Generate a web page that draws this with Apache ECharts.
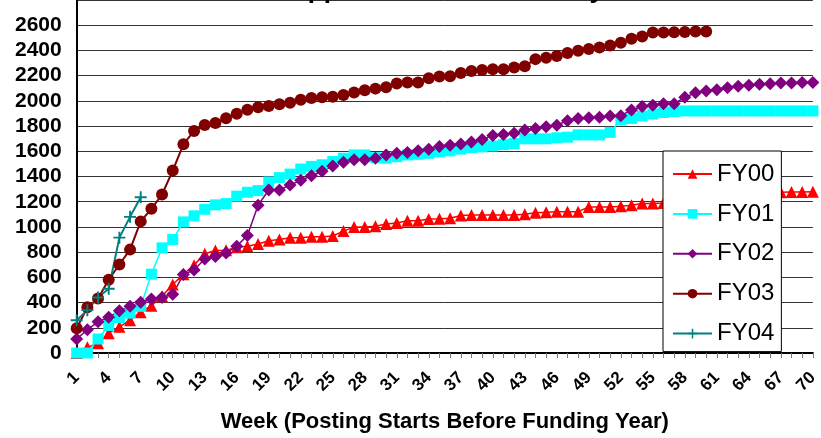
<!DOCTYPE html>
<html>
<head>
<meta charset="utf-8">
<script src="https://cdn.jsdelivr.net/npm/echarts@6/dist/echarts.min.js"></script>
<style>
html,body{margin:0;padding:0;background:#fff;}
#c{width:821px;height:438px;}
</style>
</head>
<body>
<div id="c"></div>
<script>
const weeks = ['1','2','3','4','5','6','7','8','9','10','11','12','13','14','15','16','17','18','19','20',
  '21','22','23','24','25','26','27','28','29','30','31','32','33','34','35','36','37','38','39','40',
  '41','42','43','44','45','46','47','48','49','50','51','52','53','54','55','56','57','58','59','60',
  '61','62','63','64','65','66','67','68','69','70'];

const fy00 = [0,45,78,157,208,260,324,375,450,543,
  625,697,787,813,815,838,846,864,890,900,
  915,915,923,923,928,967,1000,1000,1005,1023,
  1031,1049,1049,1062,1064,1069,1090,1095,1095,1095,
  1095,1095,1100,1113,1116,1121,1121,1121,1159,1159,
  1159,1164,1172,1185,1185,1190,1198,1210,1215,1230,
  1238,1245,1252,1262,1268,1272,1275,1278,1278,1280];

const fy01 = [0,0,111,218,281,316,370,625,834,900,
  1040,1088,1140,1175,1185,1244,1275,1288,1357,1391,
  1419,1459,1480,1493,1519,1545,1571,1571,1550,1545,
  1557,1571,1576,1584,1596,1604,1617,1630,1635,1642,
  1653,1661,1699,1699,1699,1707,1712,1730,1730,1730,
  1750,1850,1860,1880,1895,1908,1915,1920,1920,1920,
  1920,1920,1920,1920,1920,1920,1920,1920,1920,1920];

const fy02 = [111,185,247,283,335,370,402,428,441,466,
  622,658,746,766,794,846,933,1172,1293,1293,
  1332,1370,1406,1442,1483,1514,1532,1532,1545,1571,
  1584,1591,1604,1617,1638,1648,1658,1673,1694,1725,
  1733,1743,1769,1781,1794,1807,1843,1860,1866,1870,
  1879,1882,1928,1955,1966,1977,1977,2028,2064,2079,
  2089,2103,2116,2123,2131,2136,2141,2141,2146,2146];

const fy03 = [196,362,432,581,702,820,1044,1144,1257,1447,
  1655,1761,1808,1825,1862,1898,1930,1950,1960,1974,
  1985,2008,2023,2028,2033,2046,2066,2085,2097,2108,
  2138,2146,2146,2180,2193,2195,2221,2236,2244,2251,
  2251,2264,2275,2331,2342,2355,2380,2398,2411,2424,
  2439,2460,2493,2511,2542,2542,2544,2547,2550,2550];

const fy04 = [260,340,440,510,915,1080,1235];

const seriesNames = ['FY00','FY01','FY02','FY03','FY04'];
const titleText = 'Applications Received by Week';
const xAxisTitle = 'Week (Posting Starts Before Funding Year)';

const FONT = 'Liberation Sans, Arial, sans-serif';
const plusPath = 'path://M4.2,0 L5.8,0 L5.8,4.2 L10,4.2 L10,5.8 L5.8,5.8 L5.8,10 L4.2,10 L4.2,5.8 L0,5.8 L0,4.2 L4.2,4.2 Z';

function mk(name, data, color, symbol, size, lw) {
  return {
    name: name, type: 'line', data: data,
    symbol: symbol, symbolSize: size, showSymbol: true, showAllSymbol: true,
    lineStyle: {color: color, width: lw},
    itemStyle: {color: color, borderWidth: 0},
    emphasis: {disabled: true},
    animation: false
  };
}

const chart = echarts.init(document.getElementById('c'), null, {renderer: 'canvas'});
chart.setOption({
  backgroundColor: '#ffffff',
  animation: false,
  title: {
    text: titleText, left: 289, top: -22, padding: 0,
    textStyle: {fontFamily: FONT, fontSize: 26, fontWeight: 'bold', color: '#000'}
  },
  legend: {
    orient: 'vertical', left: 663, top: 151,
    padding: [11, 7, 6, 9],
    itemWidth: 39, itemHeight: 12, itemGap: 15.9,
    backgroundColor: '#fff', borderColor: '#000', borderWidth: 1,
    data: seriesNames,
    textStyle: {fontFamily: FONT, fontSize: 24, color: '#000', lineHeight: 22}
  },
  grid: {left: 76.7, right: 0, top: -9.3, bottom: 84.3, containLabel: false},
  xAxis: {
    type: 'category', data: weeks, boundaryGap: false,
    name: xAxisTitle, nameLocation: 'middle', nameGap: 58,
    nameTextStyle: {fontFamily: FONT, fontSize: 22, fontWeight: 'bold', color: '#000'},
    axisLine: {lineStyle: {color: '#000', width: 2}},
    axisTick: {show: true, interval: 0, inside: false, length: 5, lineStyle: {color: '#777', width: 1}},
    axisLabel: {interval: 2, rotate: 45, margin: 22, fontFamily: FONT, fontSize: 17, fontWeight: 'bold', color: '#000'},
    splitLine: {show: false}
  },
  yAxis: {
    type: 'value', min: 0, max: 2800, interval: 200,
    axisLine: {show: true, lineStyle: {color: '#000', width: 2}},
    axisTick: {show: false},
    axisLabel: {margin: 15, fontFamily: FONT, fontSize: 21, fontWeight: 'bold', color: '#000', showMaxLabel: false,
      formatter: function (v) { return String(v); }},
    splitLine: {show: true, lineStyle: {color: '#333', width: 1}}
  },
  series: [
    mk('FY00', fy00, '#FF0000', 'triangle', 12, 1.5),
    mk('FY01', fy01, '#00FFFF', 'rect', 11, 1.5),
    mk('FY02', fy02, '#800080', 'diamond', 13, 1.5),
    mk('FY03', fy03, '#800000', 'circle', 12, 2),
    mk('FY04', fy04, '#008080', plusPath, 12, 2)
  ]
});
</script>
</body>
</html>
